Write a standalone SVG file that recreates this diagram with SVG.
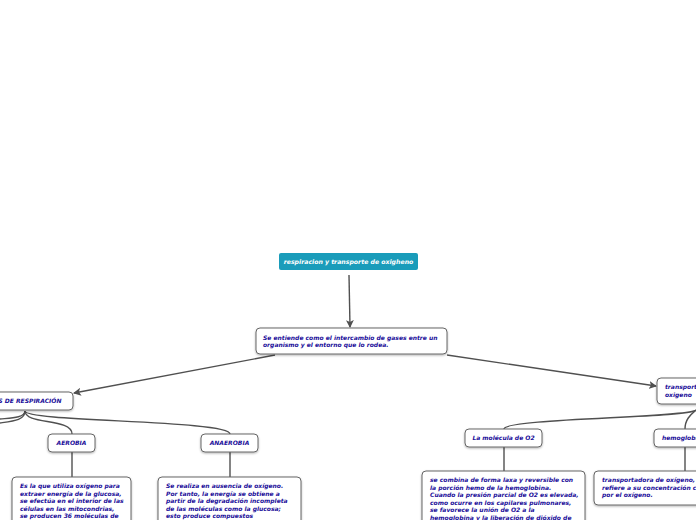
<svg xmlns="http://www.w3.org/2000/svg" width="696" height="520" viewBox="0 0 696 520">
<style>
.box{fill:#fff;stroke:#666;stroke-width:1}
.t{font-family:"DejaVu Sans",Verdana,sans-serif;font-weight:bold;font-style:italic;font-size:6px;fill:#1a0d99}
.w{font-family:"DejaVu Sans",Verdana,sans-serif;font-weight:bold;font-style:italic;font-size:6.2px;fill:#fff}
.c{fill:none;stroke:#505050;stroke-width:1.4}
</style>
<defs>
<marker id="ah" markerWidth="8" markerHeight="8" refX="7" refY="4" orient="auto" markerUnits="userSpaceOnUse">
<path d="M0,0 L8,4 L0,8 L2,4 Z" fill="#505050"/>
</marker>
<filter id="sh" x="-10%" y="-10%" width="120%" height="140%">
<feDropShadow dx="0" dy="1" stdDeviation="0.8" flood-color="#000" flood-opacity="0.3"/>
</filter>
</defs>
<g id="connectors">
<path class="c" d="M349,275 L350,327" marker-end="url(#ah)"/>
<path class="c" d="M275,355 L74,393" marker-end="url(#ah)"/>
<path class="c" d="M447,355 L656,386" marker-end="url(#ah)"/>
<path class="c" d="M25,411 C25,418 10,418 0,419"/>
<path class="c" d="M25,411 C25,420 14,421 0,423"/>
<path class="c" d="M25,411 C25,425 72,418 72,434"/>
<path class="c" d="M25,411 C25,422 230,420 230,434"/>
<path class="c" d="M72,452 L72,477"/>
<path class="c" d="M230,452 L230,477"/>
<path class="c" d="M696,410 C690,418 504,418 504,429"/>
<path class="c" d="M696,410 C690,415 685,420 685,429"/>
<path class="c" d="M504,447 L504,471"/>
<path class="c" d="M685,447 L685,471"/>
</g>
<g id="root">
<rect x="279" y="253" width="139" height="17" rx="2" fill="#1a9cba"/>
<text class="w" x="348.5" y="263.5" text-anchor="middle">respiracion y transporte de oxigheno</text>
</g>
<g id="definicion">
<rect class="box" x="256" y="328" width="191" height="26" rx="4" filter="url(#sh)"/>
<text class="t" x="263" y="340">Se entiende como el intercambio de gases entre un</text>
<text class="t" x="263" y="347">organismo y el entorno que lo rodea.</text>
</g>
<g id="tipos">
<rect class="box" x="-30" y="392" width="103" height="18" rx="4" filter="url(#sh)"/>
<text class="t" x="22" y="403" text-anchor="middle">TIPOS DE RESPIRACIÓN</text>
</g>
<g id="aerobia">
<rect class="box" x="48" y="434" width="47" height="18" rx="4" filter="url(#sh)"/>
<text class="t" x="71.5" y="445" text-anchor="middle">AEROBIA</text>
</g>
<g id="aerobia-desc">
<rect class="box" x="12" y="477" width="119" height="60" rx="4" filter="url(#sh)"/>
<text class="t" x="20" y="488">Es la que utiliza oxígeno para</text>
<text class="t" x="20" y="495.5">extraer energía de la glucosa,</text>
<text class="t" x="20" y="503">se efectúa en el interior de las</text>
<text class="t" x="20" y="510.5">células en  las mitocondrias,</text>
<text class="t" x="20" y="518">se producen 36 moléculas de</text>
</g>
<g id="anaerobia">
<rect class="box" x="201" y="434" width="57" height="18" rx="4" filter="url(#sh)"/>
<text class="t" x="229.5" y="445" text-anchor="middle">ANAEROBIA</text>
</g>
<g id="anaerobia-desc">
<rect class="box" x="158" y="477" width="143" height="60" rx="4" filter="url(#sh)"/>
<text class="t" x="166" y="488">Se realiza en ausencia de oxígeno.</text>
<text class="t" x="166" y="495.5">Por tanto, la energía se obtiene a</text>
<text class="t" x="166" y="503">partir de la degradación incompleta</text>
<text class="t" x="166" y="510.5">de las moléculas como la glucosa;</text>
<text class="t" x="166" y="518">esto produce compuestos</text>
</g>
<g id="transporte">
<rect class="box" x="657" y="378" width="70" height="26" rx="4" filter="url(#sh)"/>
<text class="t" x="665" y="389">transporte de</text>
<text class="t" x="665" y="397">oxigeno</text>
</g>
<g id="molecula">
<rect class="box" x="465" y="429" width="77" height="18" rx="4" filter="url(#sh)"/>
<text class="t" x="503.5" y="440" text-anchor="middle">La molécula de O2</text>
</g>
<g id="molecula-desc">
<rect class="box" x="422" y="471" width="163" height="66" rx="4" filter="url(#sh)"/>
<text class="t" x="430" y="482">se combina de forma laxa y reversible con</text>
<text class="t" x="430" y="489.5">la porción hemo de la hemoglobina.</text>
<text class="t" x="430" y="497">Cuando la presión parcial de O2 es elevada,</text>
<text class="t" x="430" y="504.5">como ocurre en los capilares pulmonares,</text>
<text class="t" x="430" y="512">se favorece la unión de O2 a la</text>
<text class="t" x="430" y="519.5">hemoglobina y la liberación de dióxido de</text>
</g>
<g id="hemoglobina">
<rect class="box" x="654" y="429" width="70" height="18" rx="4" filter="url(#sh)"/>
<text class="t" x="662" y="440">hemoglobina</text>
</g>
<g id="hemoglobina-desc">
<rect class="box" x="594" y="471" width="140" height="34" rx="4" filter="url(#sh)"/>
<text class="t" x="602" y="482">transportadora de oxígeno,</text>
<text class="t" x="602" y="489.5">refiere a su concentración cuando está saturada</text>
<text class="t" x="602" y="497">por el oxígeno.</text>
</g>
</svg>
